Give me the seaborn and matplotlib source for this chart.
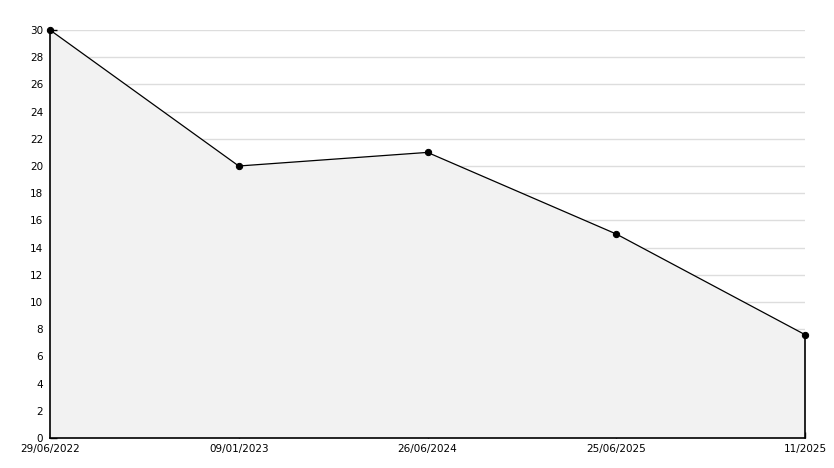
import numpy as np
import pandas as pd
import matplotlib
matplotlib.use('Agg')
import matplotlib.pyplot as plt
import seaborn as sns

# data
dates = ['29/06/2022', '09/01/2023', '26/06/2024', '25/06/2025', '11/2025']
values = [30, 20, 21, 15, 7.6]

df = pd.DataFrame({'pos': np.arange(len(dates)), 'date': dates, 'value': values})

sns.set_theme(style='white')
plt.rcParams['font.family'] = ['DejaVu Sans']

fig = plt.figure(figsize=(8.34, 4.68), dpi=100)
ax = fig.add_axes([50 / 834, 30 / 468, 755 / 834, 408 / 468])

# shaded area under the line, black outline on the right edge
ax.fill_between(df['pos'], 0, df['value'], facecolor='#f2f2f2', edgecolor='none', zorder=1)
ax.plot([df['pos'].iloc[-1]] * 2, [0, df['value'].iloc[-1]], color='black', lw=1.2,
        zorder=3, clip_on=False)

sns.lineplot(data=df, x='pos', y='value', ax=ax, color='black', lw=0.9,
             marker='o', markersize=4.5, markeredgecolor='black', zorder=4, clip_on=False)

ax.set_xlim(0, len(dates) - 1)
ax.set_ylim(0, 30)
ax.set_xticks(df['pos'])
ax.set_xticklabels(dates)
ax.set_yticks(np.arange(0, 31, 2))
ax.set_yticks(np.arange(1, 30, 2), minor=True)
ax.set_xlabel('')
ax.set_ylabel('')

ax.yaxis.grid(True, color='#dddddd', lw=1, zorder=0)
ax.xaxis.grid(False)
ax.set_axisbelow(True)

for s in ['top', 'right']:
    ax.spines[s].set_visible(False)
for s in ['left', 'bottom']:
    ax.spines[s].set_color('black')
    ax.spines[s].set_linewidth(1.2)

ax.tick_params(axis='y', which='major', direction='in', length=5, width=1, color='black',
               labelsize=7.5, labelcolor='black', pad=5, left=True)
ax.tick_params(axis='y', which='minor', direction='in', length=3, width=1, color='black', left=True)
ax.tick_params(axis='x', which='major', direction='in', length=4, width=1, color='black',
               labelsize=7.5, labelcolor='black', pad=4, bottom=True)

plt.savefig('out.png', dpi=100)
